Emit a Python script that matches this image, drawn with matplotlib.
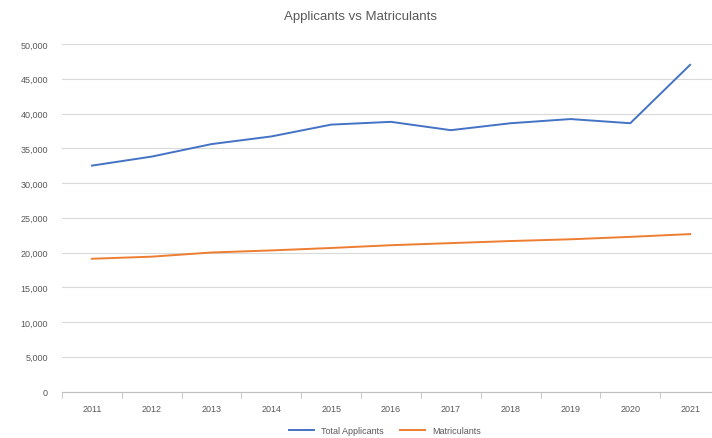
import matplotlib
matplotlib.use("Agg")
import matplotlib.pyplot as plt
from matplotlib.ticker import FuncFormatter, FixedLocator

years = ["2011", "2012", "2013", "2014", "2015", "2016",
         "2017", "2018", "2019", "2020", "2021"]
total_applicants = [32500, 33800, 35600, 36700, 38400, 38800,
                    37600, 38600, 39200, 38600, 47000]
matriculants = [19100, 19400, 20000, 20300, 20650, 21050,
                21350, 21650, 21900, 22250, 22650]

plt.rcParams['font.family'] = ['Liberation Sans', 'DejaVu Sans']

fig = plt.figure(figsize=(7.12, 4.39), dpi=100)
ax = fig.add_axes([62 / 712, 46.5 / 439, 658 / 712, 347.5 / 439])

x = list(range(len(years)))
ax.plot(x, total_applicants, color='#4472C4', lw=1.4, label='Total Applicants')
ax.plot(x, matriculants, color='#ED7D31', lw=1.4, label='Matriculants')

ax.set_xlim(-0.5, len(years) - 0.5)
ax.set_ylim(0, 50000)
ax.set_yticks(range(0, 50001, 5000))
ax.yaxis.set_major_formatter(FuncFormatter(lambda v, p: "{:,.0f}".format(v)))
ax.set_xticks(x)
ax.set_xticklabels(years)
ax.xaxis.set_minor_locator(FixedLocator([i - 0.5 for i in range(len(years) + 1)]))

ax.grid(axis='y', color='#D9D9D9', lw=0.8)
ax.set_axisbelow(True)
for s in ['top', 'right', 'left']:
    ax.spines[s].set_visible(False)
ax.spines['bottom'].set_color('#BFBFBF')
ax.tick_params(axis='y', length=0, labelsize=6.5, colors='#595959', pad=10)
ax.tick_params(axis='x', which='major', length=0, labelsize=6.5, colors='#595959', pad=9)
ax.tick_params(axis='x', which='minor', length=4, color='#BFBFBF')

fig.text(360 / 712, 1 - 17 / 439, "Applicants vs Matriculants", fontsize=9.5,
         color='#595959', ha='center', va='center')
fig.legend(loc='center', bbox_to_anchor=(385 / 712, 1 - 432 / 439), ncol=2,
           frameon=False, fontsize=6.5, labelcolor='#595959',
           handlelength=2.8, columnspacing=1.8, borderpad=0.1)

fig.savefig("out.png", dpi=100)
